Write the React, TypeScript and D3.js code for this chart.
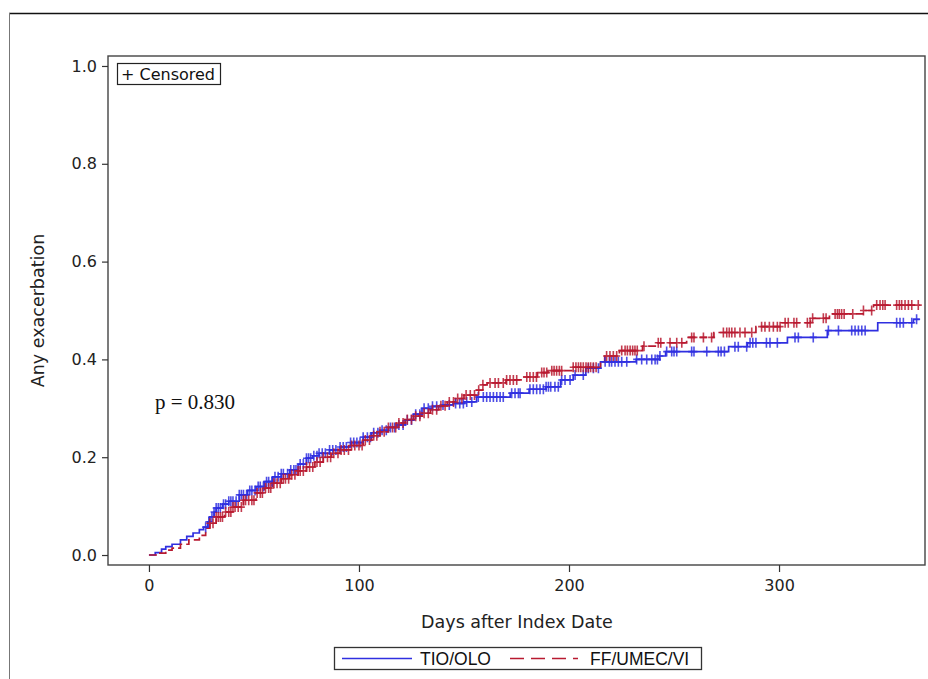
import React, { useEffect, useRef } from 'react';
import * as d3 from 'd3';

// Kaplan-Meier style cumulative curves: [day, cumulative incidence]
const tioOloSteps: [number, number][] = [
  [0, 0], [3, 0.005], [6, 0.012], [8, 0.017], [11, 0.022], [15, 0.031], [18, 0.038],
  [21, 0.045], [24, 0.052], [26, 0.057], [28, 0.068], [29, 0.078], [31, 0.088], [32, 0.096],
  [35, 0.104], [38, 0.11], [43, 0.123], [47, 0.132], [51, 0.14], [55, 0.15], [59, 0.16],
  [63, 0.166], [67, 0.174], [71, 0.186], [75, 0.198], [78, 0.203], [81, 0.208], [86, 0.215],
  [91, 0.221], [96, 0.23], [102, 0.241], [106, 0.25], [110, 0.255], [114, 0.261], [118, 0.266],
  [122, 0.276], [126, 0.288], [130, 0.3], [135, 0.304], [140, 0.307], [145, 0.31], [150, 0.313],
  [156, 0.323], [172, 0.331], [181, 0.339], [189, 0.344], [196, 0.358], [202, 0.368],
  [208, 0.382], [215, 0.395], [232, 0.4], [243, 0.407], [246, 0.416], [276, 0.426],
  [285, 0.434], [304, 0.445], [323, 0.459], [347, 0.475], [364, 0.482], [367, 0.482],
];

const ffUmecViSteps: [number, number][] = [
  [0, 0], [4, 0.004], [8, 0.01], [11, 0.014], [15, 0.022], [19, 0.031], [24, 0.04],
  [27, 0.055], [29, 0.065], [32, 0.078], [36, 0.088], [40, 0.098], [45, 0.112], [51, 0.127],
  [55, 0.137], [59, 0.147], [63, 0.156], [67, 0.164], [71, 0.172], [75, 0.18], [79, 0.19],
  [83, 0.2], [87, 0.208], [91, 0.215], [96, 0.224], [102, 0.235], [106, 0.244], [110, 0.252],
  [114, 0.261], [118, 0.27], [122, 0.277], [126, 0.284], [130, 0.29], [134, 0.297],
  [138, 0.305], [142, 0.313], [146, 0.32], [150, 0.327], [156, 0.337], [159, 0.348],
  [161, 0.352], [170, 0.358], [178, 0.364], [185, 0.373], [190, 0.377], [202, 0.384],
  [215, 0.395], [217, 0.407], [224, 0.418], [235, 0.427], [242, 0.434], [256, 0.445],
  [269, 0.455], [289, 0.467], [301, 0.475], [315, 0.484], [324, 0.493], [340, 0.5],
  [345, 0.511], [367, 0.511],
];

// censoring times (days)
const tioOloCensored = [
  27, 28.5, 30, 31, 32, 33, 34, 35.5, 36.5, 38, 39, 40, 41.5, 43, 44, 45, 46.5, 48, 49, 50.5,
  52, 53, 54.5, 56, 57, 58.5, 60, 61.5, 63, 64, 66, 67.5, 69, 70, 72, 73.5, 75, 76, 77, 78.5,
  80, 81, 82.5, 84, 86, 87.5, 89, 91, 92.5, 94, 96, 97.5, 99, 100.5, 102, 104, 105.5, 107,
  109, 111, 113, 115, 117, 119, 121, 123, 125, 127, 129, 131, 133, 135, 137, 140, 143, 146,
  148, 149.7, 151.3, 153.7, 156.8, 159.2, 160.8, 162.4, 164, 165.6, 167.2, 168.7, 172.7,
  174.3, 175.9, 176.7, 181.4, 183, 184.6, 186.2, 187.8, 189.1, 190.2, 191.3, 193.3, 194.9,
  196.5, 198.1, 200.5, 202.9, 206.8, 209.2, 211.6, 214, 217.2, 219.2, 220.3, 221.9, 223.5,
  225.1, 227.5, 232.2, 234.6, 237, 239.4, 241, 242.1, 243.3, 246.5, 248.9, 250, 251.3,
  258.4, 259.5, 265.6, 271.1, 272.4, 274, 279, 280.6, 284.6, 286.2, 287.5, 289, 294, 295.7,
  299.2, 307.6, 309.2, 316.3, 323.5, 328.3, 334.6, 336.2, 337.8, 339.4, 341, 356, 357.6,
  359.2, 363.2, 365.5,
];

const ffUmecViCensored = [
  29, 30.5, 32, 33, 34, 35, 36.5, 38, 39, 40, 41, 42.5, 44, 45, 46, 47.5, 49, 50, 51.5, 53,
  54, 55.5, 57, 58, 59.5, 61, 62.5, 64, 65, 66.5, 68, 69.5, 71, 72, 73.5, 75, 76.5, 78, 80,
  81.5, 83, 85, 86.5, 88, 90, 91.5, 93, 95, 96.5, 98, 100, 101.5, 103, 105, 107, 108.5, 110,
  112, 114, 116, 117.5, 119, 121, 123, 125, 127, 129, 131, 133, 135, 137, 139, 141, 143, 145,
  147, 149, 151, 153, 155, 157, 159, 162.4, 164.8, 166.4, 168.7, 170.3, 171.9, 173.5, 175.1,
  179.9, 181.4, 183, 184.5, 187, 188.1, 189.4, 191.8, 192.9, 194.1, 195.4, 196.5, 202, 203.3,
  204.5, 205.6, 206.8, 208.1, 209.2, 210.3, 211.6, 212.9, 217.9, 219.5, 221.1, 222.7, 225.1,
  226.7, 227.8, 229.1, 230.3, 231.4, 232.5, 235.7, 242.5, 243.7, 248.1, 251.3, 253.7, 258.4,
  259.5, 264, 267.9, 273.5, 275.1, 276.3, 277.5, 279, 281.4, 283.8, 287, 291.7, 293.3, 295.4,
  297.3, 299.2, 300.5, 302.9, 304.4, 307.1, 308.4, 313.5, 314.8, 316, 321.1, 322.4, 326.7,
  327.8, 328.7, 329.8, 331, 335.1, 340.2, 344.1, 346.5, 348.1, 349.4, 350.5, 356, 357.3,
  358.4, 360, 361.6, 363.2, 366.3,
];

const xTicks = [0, 100, 200, 300];
const yTicks = [0, 0.2, 0.4, 0.6, 0.8, 1.0];
const seriesNames = ['TIO/OLO', 'FF/UMEC/VI'];
const seriesColors = ['#2f2fe0', '#b81a30'];

const font = '"DejaVu Sans", sans-serif';

const valueAt = (steps: [number, number][], t: number) => {
  let v = 0;
  for (const [d, y] of steps) {
    if (d <= t) v = y;
    else break;
  }
  return v;
};

const App = () => {
  const ref = useRef<SVGSVGElement | null>(null);

  useEffect(() => {
    drawChart();
  }, []);

  const drawChart = () => {
    const svg = d3.select(ref.current);
    svg.selectAll('*').remove();

    // plot frame
    const frame = { left: 108, right: 925, top: 56, bottom: 565 };

    const x = d3.scaleLinear().domain([-19.5, 369.5]).range([frame.left, frame.right]);
    const y = d3.scaleLinear().domain([-0.0204, 1.0204]).range([frame.bottom, frame.top]);

    // outer page frame
    svg.append('line')
      .attr('x1', 9).attr('x2', 928).attr('y1', 13.5).attr('y2', 13.5)
      .attr('stroke', '#111').attr('stroke-width', 1.6);
    svg.append('line')
      .attr('x1', 9.5).attr('x2', 9.5).attr('y1', 13).attr('y2', 679)
      .attr('stroke', '#777').attr('stroke-width', 1);

    svg.append('rect')
      .attr('x', frame.left).attr('y', frame.top)
      .attr('width', frame.right - frame.left).attr('height', frame.bottom - frame.top)
      .attr('fill', 'none').attr('stroke', '#444').attr('stroke-width', 1.4);

    // y axis
    const yAxis = svg.append('g')
      .attr('transform', `translate(${frame.left},0)`)
      .call(d3.axisLeft(y).tickValues(yTicks).tickFormat(d3.format('.1f')).tickSize(6).tickPadding(5));
    yAxis.select('.domain').remove();
    yAxis.selectAll('line').attr('stroke', '#333').attr('stroke-width', 1.2);
    yAxis.selectAll('text').attr('font-family', font).attr('font-size', 16).attr('fill', '#222');

    // x axis
    const xAxis = svg.append('g')
      .attr('transform', `translate(0,${frame.bottom})`)
      .call(d3.axisBottom(x).tickValues(xTicks).tickFormat(d3.format('d')).tickSize(7).tickPadding(8));
    xAxis.select('.domain').remove();
    xAxis.selectAll('line').attr('stroke', '#333').attr('stroke-width', 1.2);
    xAxis.selectAll('text').attr('font-family', font).attr('font-size', 16).attr('fill', '#222');

    // axis titles
    svg.append('text')
      .attr('x', 517)
      .attr('y', 628)
      .attr('text-anchor', 'middle')
      .attr('font-family', font).attr('font-size', 17.5).attr('fill', '#222')
      .text('Days after Index Date');

    svg.append('text')
      .attr('transform', `translate(44,${(frame.top + frame.bottom) / 2}) rotate(-90)`)
      .attr('text-anchor', 'middle')
      .attr('font-family', font).attr('font-size', 17.5).attr('fill', '#222')
      .text('Any exacerbation');

    // curves
    const line = d3.line<[number, number]>()
      .x(d => x(d[0]))
      .y(d => y(d[1]))
      .curve(d3.curveStepAfter);

    const allSteps = [tioOloSteps, ffUmecViSteps];
    const allCensored = [tioOloCensored, ffUmecViCensored];

    allSteps.forEach((steps, i) => {
      svg.append('path')
        .datum(steps)
        .attr('d', line)
        .attr('fill', 'none')
        .attr('stroke', seriesColors[i])
        .attr('stroke-width', 1.7)
        .attr('stroke-dasharray', i === 1 ? '8,4' : null);
    });

    allCensored.forEach((cens, i) => {
      svg.append('g')
        .selectAll('path')
        .data(cens)
        .enter().append('path')
        .attr('d', t => {
          const cx = x(t);
          const cy = y(valueAt(allSteps[i], t));
          return `M${cx},${cy - 5}V${cy + 5}M${cx - 3.5},${cy}H${cx + 3.5}`;
        })
        .attr('stroke', seriesColors[i])
        .attr('stroke-width', 1.6)
        .attr('stroke-opacity', 0.85)
        .attr('fill', 'none');
    });

    // "+ Censored" box
    svg.append('rect')
      .attr('x', 117.5).attr('y', 63.5).attr('width', 103).attr('height', 21)
      .attr('fill', 'white').attr('stroke', '#222').attr('stroke-width', 1.2);
    svg.append('text')
      .attr('x', 121).attr('y', 80)
      .attr('font-family', font).attr('font-size', 16).attr('fill', '#111')
      .text('+ Censored');

    // p value
    svg.append('text')
      .attr('x', 155).attr('y', 409)
      .attr('font-family', '"Liberation Serif", serif').attr('font-size', 21).attr('fill', '#111')
      .text('p = 0.830');

    // legend
    const legend = svg.append('g');
    legend.append('rect')
      .attr('x', 334.5).attr('y', 647.5).attr('width', 367).attr('height', 22)
      .attr('fill', 'white').attr('stroke', '#333').attr('stroke-width', 1.3);

    const legendItems = [
      { x1: 342, x2: 412, tx: 420 },
      { x1: 510, x2: 578, tx: 590 },
    ];
    seriesNames.forEach((name, i) => {
      const it = legendItems[i];
      legend.append('line')
        .attr('x1', it.x1).attr('x2', it.x2).attr('y1', 658.5).attr('y2', 658.5)
        .attr('stroke', seriesColors[i]).attr('stroke-width', 1.5)
        .attr('stroke-dasharray', i === 1 ? '14,7' : null);
      legend.append('text')
        .attr('x', it.tx).attr('y', 665)
        .attr('font-family', '"Liberation Sans", Arial, sans-serif')
        .attr('font-size', 17.5).attr('fill', '#111')
        .text(name);
    });
  };

  return (
    <svg
      ref={ref}
      width={928}
      height={679}
      style={{ position: 'absolute', left: 0, top: 0, background: 'white' }}
    />
  );
};

export default App;
